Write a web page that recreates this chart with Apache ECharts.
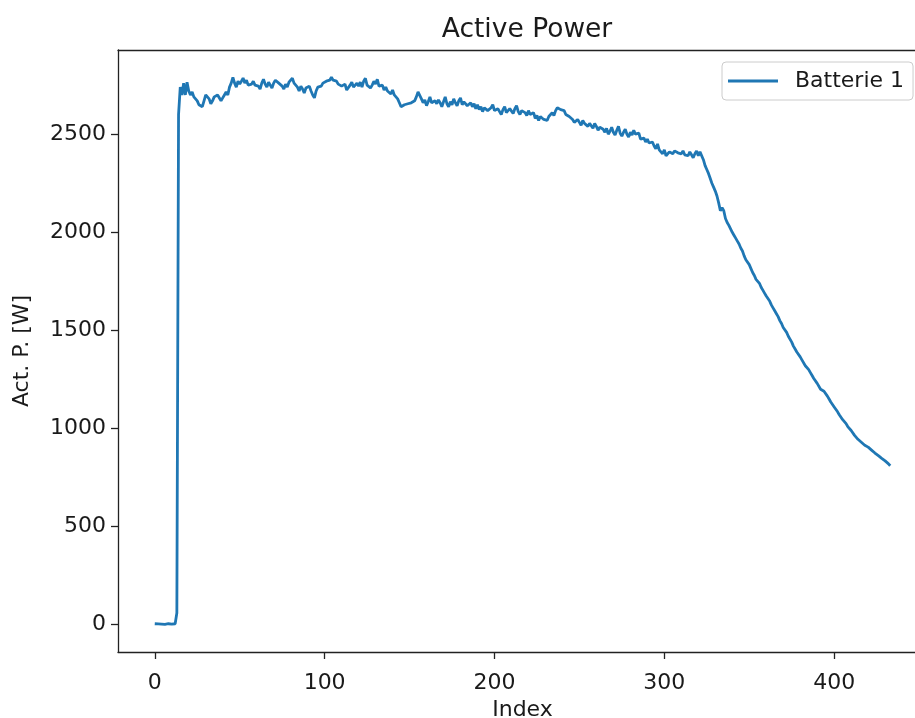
<!DOCTYPE html>
<html>
<head>
<meta charset="utf-8">
<script src="https://cdn.jsdelivr.net/npm/echarts@6/dist/echarts.min.js"></script>
<style>html,body{margin:0;padding:0;background:#fff;overflow:hidden;width:915px;height:718px}#c{width:1000px;height:718px}</style>
</head>
<body>
<div id="c"></div>
<script>
const chartTitle = "Active Power";
const seriesName = "Batterie 1";
const xAxisTitle = "Index";
const yAxisTitle = "Act. P. [W]";
const xTicks = [0, 100, 200, 300, 400];
const yTicks = [0, 500, 1000, 1500, 2000, 2500];
const xRange = [-21.65, 454.65];
const yRange = [-139, 2929];
// Active power per index (0..433)
const power = [
5,3,4,2,3,4,2,3,5,4,
3,6,5,60,2600,2740,2700,2760,2700,2765,
2720,2700,2715,2690,2700,2670,2650,2660,2640,2670,
2700,2710,2680,2655,2670,2690,2680,2700,2690,2670,
2685,2700,2715,2700,2740,2760,2790,2760,2740,2770,
2755,2770,2786,2760,2775,2750,2740,2755,2770,2750,
2760,2745,2730,2760,2780,2755,2740,2765,2750,2735,
2760,2775,2785,2760,2770,2745,2730,2755,2740,2765,
2775,2785,2760,2770,2740,2720,2745,2730,2710,2735,
2725,2745,2720,2700,2685,2720,2740,2730,2745,2760,
2750,2770,2780,2775,2790,2775,2765,2770,2755,2760,
2745,2735,2755,2725,2715,2750,2765,2740,2730,2760,
2745,2765,2740,2770,2785,2750,2760,2735,2750,2770,
2755,2780,2745,2735,2750,2725,2740,2720,2730,2705,
2725,2700,2710,2680,2660,2640,2630,2650,2640,2655,
2645,2660,2650,2670,2690,2715,2705,2680,2660,2675,
2645,2665,2690,2660,2650,2670,2655,2675,2660,2640,
2665,2690,2655,2640,2665,2650,2680,2660,2645,2670,
2685,2650,2665,2675,2645,2635,2660,2640,2655,2630,
2650,2625,2640,2615,2635,2645,2620,2610,2635,2650,
2620,2610,2630,2615,2600,2625,2640,2610,2600,2630,
2620,2605,2630,2645,2615,2600,2620,2630,2610,2595,
2620,2600,2590,2610,2580,2595,2570,2590,2600,2575,
2585,2570,2590,2600,2610,2595,2620,2635,2645,2625,
2615,2620,2600,2610,2590,2600,2575,2560,2550,2575,
2560,2545,2570,2555,2565,2540,2555,2545,2530,2555,
2540,2520,2535,2545,2525,2510,2530,2500,2515,2535,
2510,2495,2520,2540,2505,2490,2510,2525,2500,2485,
2510,2495,2520,2500,2490,2505,2475,2465,2480,2460,
2475,2455,2445,2460,2440,2425,2450,2420,2410,2400,
2420,2390,2385,2410,2420,2400,2415,2420,2405,2410,
2400,2415,2395,2405,2390,2410,2395,2380,2400,2415,
2390,2410,2400,2370,2340,2320,2300,2275,2250,2230,
2210,2185,2150,2110,2125,2110,2070,2050,2035,2025,
2000,1985,1970,1955,1940,1920,1905,1880,1860,1850,
1835,1815,1795,1780,1760,1750,1740,1720,1705,1690,
1675,1665,1650,1630,1615,1600,1585,1570,1550,1535,
1515,1505,1490,1470,1460,1440,1420,1405,1390,1380,
1365,1350,1340,1320,1310,1300,1285,1270,1255,1245,
1230,1220,1200,1195,1190,1180,1165,1150,1135,1125,
1110,1100,1085,1070,1060,1045,1035,1025,1010,1000,
990,980,965,955,945,940,930,920,915,905,
905,895,890,885,875,868,862,855,848,840,
835,828,820,810
];

const chart = echarts.init(document.getElementById('c'), null, {renderer: 'canvas', width: 1000, height: 718});
const FONT = 'DejaVu Sans';
const TXT = '#1a1a1a';
const BLUE = '#1f77b4';
const SPINE = {show: true, onZero: false, lineStyle: {color: '#222222', width: 1.3}};
const plain = v => String(Math.round(v));
chart.setOption({
  animation: false,
  backgroundColor: '#ffffff',
  title: {
    text: chartTitle, left: 522, top: 12, textAlign: 'center',
    textStyle: {fontFamily: FONT, fontSize: 26.5, fontWeight: 'normal', color: TXT}
  },
  legend: {
    data: [{name: seriesName, icon: 'rect'}],
    left: 722, top: 62,
    itemWidth: 50, itemHeight: 3,
    padding: [8, 9, 8, 6],
    borderColor: '#cccccc', borderWidth: 1, borderRadius: 4,
    backgroundColor: '#ffffff',
    textStyle: {fontFamily: FONT, fontSize: 22, color: TXT, padding: [0, 0, 0, 12]}
  },
  grid: {left: 118, top: 50, width: 809, bottom: 66, show: false, containLabel: false, outerBoundsMode: 'none'},
  xAxis: [{
    type: 'value', min: xRange[0], max: xRange[1], position: 'bottom',
    name: xAxisTitle, nameLocation: 'middle', nameGap: 46,
    nameTextStyle: {fontFamily: FONT, fontSize: 22, color: TXT},
    axisLine: SPINE,
    splitLine: {show: false},
    axisTick: {show: true, inside: false, length: 7, lineStyle: {color: '#222', width: 1.3}, customValues: xTicks},
    axisLabel: {fontFamily: FONT, fontSize: 22, color: TXT, margin: 20, customValues: xTicks, formatter: plain}
  }, {
    type: 'value', min: xRange[0], max: xRange[1], position: 'top',
    axisLine: SPINE, axisTick: {show: false}, axisLabel: {show: false}, splitLine: {show: false}
  }],
  yAxis: {
    type: 'value', min: yRange[0], max: yRange[1],
    name: yAxisTitle, nameLocation: 'middle', nameGap: 85, nameRotate: 90,
    nameTextStyle: {fontFamily: FONT, fontSize: 22, color: TXT},
    axisLine: SPINE,
    splitLine: {show: false},
    axisTick: {show: true, inside: false, length: 7, lineStyle: {color: '#222', width: 1.3}, customValues: yTicks},
    axisLabel: {fontFamily: FONT, fontSize: 22, color: TXT, margin: 12, customValues: yTicks, formatter: plain}
  },
  series: [{
    name: seriesName, type: 'line', xAxisIndex: 0,
    data: power.map((v, i) => [i, v]),
    showSymbol: false, symbol: 'none',
    lineStyle: {color: BLUE, width: 2.8},
    itemStyle: {color: BLUE}
  }]
});
</script>
</body>
</html>
